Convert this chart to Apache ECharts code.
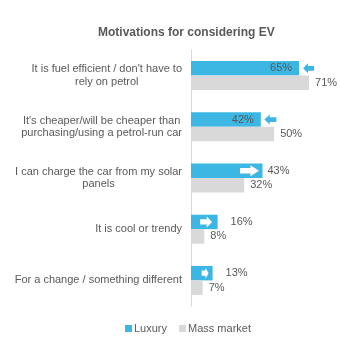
<!DOCTYPE html>
<html>
<head>
<meta charset="utf-8">
<script src="https://cdn.jsdelivr.net/npm/echarts@6/dist/echarts.min.js"></script>
<style>html,body{margin:0;padding:0;background:#fff;}#c{width:340px;height:342px;}</style>
</head>
<body>
<div id="c"></div>
<script>
// ---- data ----
const categories = [
  "It is fuel efficient / don't have to\nrely on petrol",
  "It's cheaper/will be cheaper than\npurchasing/using a petrol-run car",
  "I can charge the car from my solar\npanels",
  "It is cool or trendy",
  "For a change / something different"
];
const luxury = [65, 42, 43, 16, 13];
const massMarket = [71, 50, 32, 8, 7];
const arrowDir = ['left', 'left', 'right', 'right', 'right'];
const seriesNames = ['Luxury', 'Mass market'];

// ---- styles ----
const BLUE = '#3CB7E3';
const GREY = '#D9D9D9';
const TXT = '#595959';
const arrowStyle = [
  {w: 11, h: 10, dx: 9.5},
  {w: 12, h: 10, dx: 9.5},
  {w: 19, h: 11, dx: -13},
  {w: 12, h: 11, dx: -11.5},
  {w: 7,  h: 11, dx: -7.5}
];
const luxLabelStyle = [
  {position: 'insideRight', distance: 7},
  {position: 'insideRight', distance: 7},
  {position: 'right', distance: 5},
  {position: 'right', distance: 13},
  {position: 'right', distance: 13}
];
const RIGHT_ARROW = 'path://M0,2.6 L5.5,2.6 L5.5,0 L10,5 L5.5,10 L5.5,7.4 L0,7.4 Z';
const LEFT_ARROW = 'path://M10,2.6 L4.5,2.6 L4.5,0 L0,5 L4.5,10 L4.5,7.4 L10,7.4 Z';

const chart = echarts.init(document.getElementById('c'), null, {renderer: 'canvas'});
const labelFont = {fontFamily: 'Liberation Sans, Arial, sans-serif', fontSize: 11, color: TXT};

chart.setOption({
  animation: false,
  backgroundColor: '#fff',
  title: {
    text: 'Motivations for considering EV',
    left: 93, top: 22,
    textStyle: {fontFamily: 'Liberation Sans, Arial, sans-serif', fontSize: 12, fontWeight: 'bold', color: TXT}
  },
  legend: {
    data: seriesNames,
    left: 120, top: 318,
    icon: 'rect', itemWidth: 7, itemHeight: 7, itemGap: 12,
    textStyle: Object.assign({}, labelFont, {padding: [0, 0, 0, -3]})
  },
  grid: {left: 191, right: 16, top: 50, bottom: 36, containLabel: false},
  xAxis: {
    type: 'value', min: 0, max: 80, show: false,
    splitLine: {show: false}
  },
  yAxis: {
    type: 'category', inverse: true, data: categories,
    axisLine: {show: true, lineStyle: {color: GREY, width: 1}},
    axisTick: {show: false},
    axisLabel: {
      margin: 9, align: 'right',
      formatter: v => v.split('\n').map(l => '{c|' + l + '}').join('\n'),
      rich: {c: Object.assign({}, labelFont, {align: 'center', lineHeight: 12.5})}
    }
  },
  series: [
    {
      name: seriesNames[0], type: 'bar', barWidth: 14.5, barGap: '0%',
      itemStyle: {color: BLUE},
      data: luxury.map((v, i) => ({
        value: v,
        label: Object.assign({show: true, formatter: '{c}%'}, labelFont, luxLabelStyle[i])
      })),
      markPoint: {
        silent: true,
        label: {show: false},
        data: luxury.map((v, i) => ({
          coord: [v, i],
          symbol: arrowDir[i] === 'left' ? LEFT_ARROW : RIGHT_ARROW,
          symbolSize: [arrowStyle[i].w, arrowStyle[i].h],
          symbolKeepAspect: false,
          symbolOffset: [arrowStyle[i].dx, 0],
          itemStyle: {color: arrowDir[i] === 'left' ? BLUE : '#ffffff'}
        }))
      }
    },
    {
      name: seriesNames[1], type: 'bar', barWidth: 14.5, barGap: '0%',
      itemStyle: {color: GREY},
      label: Object.assign({show: true, position: 'right', distance: 6, formatter: '{c}%'}, labelFont),
      data: massMarket
    }
  ]
});
</script>
</body>
</html>
